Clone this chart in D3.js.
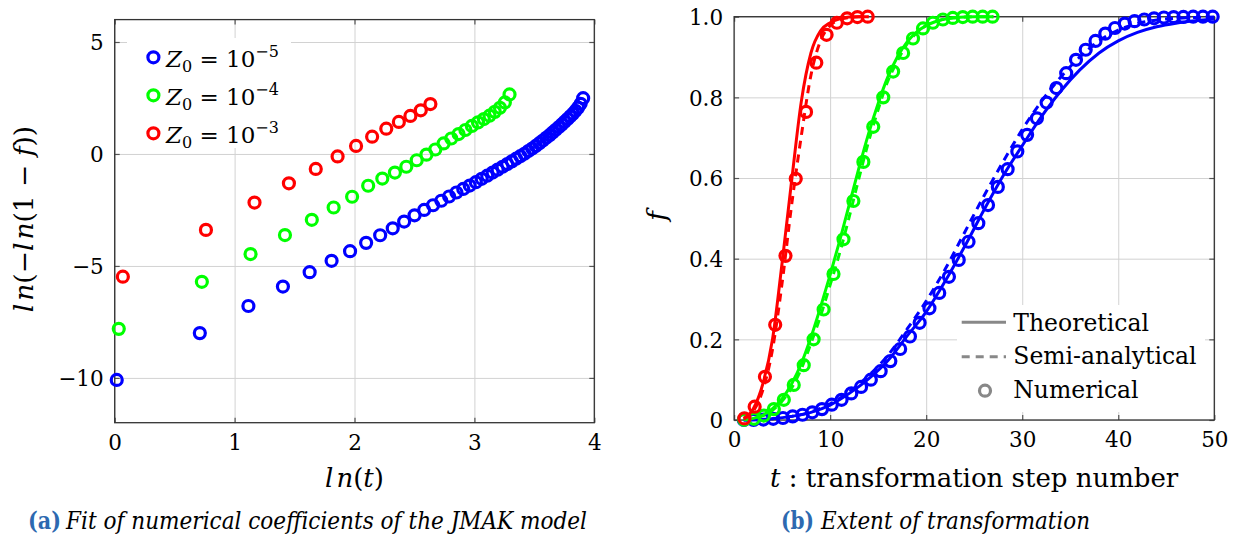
<!DOCTYPE html>
<html><head><meta charset="utf-8">
<script src="https://cdn.jsdelivr.net/npm/d3@7"></script>
<style>
body{margin:0;background:#fff}
svg{display:block}
text{font-family:"DejaVu Serif",serif;fill:#000}
</style>
</head><body>
<svg id="c" width="1237" height="543"></svg>
<script>
// ---------- Panel (a): ln(-ln(1-f)) vs ln(t) ----------
const lnT_blue = [0.017,0.710,1.115,1.403,1.626,1.809,1.963,2.097,2.214,2.319,2.414,2.501,2.581,2.655,2.724,2.789,2.850,2.907,2.961,3.012,3.061,3.107,3.152,3.194,3.235,3.274,3.312,3.348,3.383,3.417,3.450,3.482,3.512,3.542,3.571,3.599,3.627,3.653,3.679,3.705,3.729,3.753,3.777,3.800,3.822,3.844,3.865,3.886,3.907];
const lnF_blue = [-10.09,-8.00,-6.79,-5.92,-5.28,-4.77,-4.34,-3.97,-3.63,-3.32,-3.02,-2.74,-2.50,-2.29,-2.09,-1.90,-1.72,-1.56,-1.41,-1.26,-1.11,-0.97,-0.83,-0.70,-0.57,-0.45,-0.33,-0.21,-0.10,0.01,0.13,0.24,0.36,0.48,0.60,0.72,0.84,0.96,1.08,1.20,1.32,1.44,1.56,1.68,1.80,1.93,2.07,2.24,2.49];
const lnT_green = [0.034,0.727,1.133,1.420,1.644,1.826,1.980,2.114,2.232,2.337,2.432,2.519,2.600,2.674,2.743,2.807,2.868,2.925,2.979,3.030,3.079,3.126,3.170,3.213,3.254,3.293];
const lnF_green = [-7.81,-5.71,-4.47,-3.62,-2.94,-2.39,-1.91,-1.42,-1.10,-0.83,-0.57,-0.28,-0.03,0.20,0.47,0.69,0.89,1.07,1.25,1.41,1.56,1.71,1.88,2.06,2.30,2.66];
const lnT_red = [0.068,0.761,1.166,1.453,1.677,1.859,2.013,2.147,2.265,2.370,2.466,2.553,2.633];
const lnF_red = [-5.48,-3.39,-2.17,-1.31,-0.67,-0.11,0.36,0.77,1.13,1.43,1.70,1.95,2.23];
const legendA = ["5","4","3"];
const xTicksA = [0,1,2,3,4];
const yTicksA = [-10,-5,0,5];

// ---------- Panel (b): f vs t ----------
const t_blue = [1.02,2.03,3.05,4.07,5.09,6.10,7.12,8.14,9.15,10.17,11.19,12.20,13.22,14.24,15.26,16.27,17.29,18.31,19.32,20.34,21.36,22.37,23.39,24.41,25.43,26.44,27.46,28.48,29.49,30.51,31.53,32.54,33.56,34.58,35.60,36.61,37.63,38.65,39.66,40.68,41.70,42.71,43.73,44.75,45.77,46.78,47.80,48.82,49.83];
const f_blue = [0.000,0.0003,0.001,0.003,0.005,0.009,0.013,0.019,0.027,0.038,0.050,0.066,0.082,0.100,0.121,0.146,0.176,0.207,0.241,0.277,0.315,0.355,0.397,0.442,0.488,0.533,0.578,0.622,0.666,0.707,0.748,0.787,0.823,0.860,0.893,0.918,0.940,0.958,0.972,0.983,0.989,0.993,0.996,0.998,0.999,0.9995,1.000,1.000,1.000];
const t_green = [1.04,2.07,3.11,4.14,5.18,6.21,7.25,8.28,9.32,10.35,11.39,12.42,13.46,14.49,15.53,16.56,17.60,18.63,19.67,20.70,21.74,22.77,23.81,24.84,25.88,26.91];
const f_green = [0.0005,0.003,0.011,0.027,0.050,0.087,0.136,0.200,0.274,0.362,0.448,0.543,0.640,0.727,0.800,0.864,0.910,0.946,0.971,0.985,0.993,0.997,0.999,1.000,1.000,1.000];
const t_red = [1.07,2.14,3.21,4.28,5.35,6.42,7.49,8.56,9.63,10.70,11.77,12.84,13.91];
const f_red = [0.004,0.033,0.107,0.236,0.407,0.598,0.764,0.886,0.955,0.985,0.996,0.999,1.000];

const tLine_blue = [1,2,4,6,8,10,12,14,16,18,20,22,24,26,28,30,32,34,36,38,40,42,44,46,48,50];
const theo_blue = [0.000,0.0003,0.003,0.009,0.019,0.037,0.066,0.102,0.147,0.208,0.268,0.345,0.430,0.520,0.605,0.680,0.752,0.815,0.868,0.910,0.940,0.961,0.975,0.984,0.990,0.994];
const semi_blue = [0.000,0.0003,0.003,0.009,0.020,0.040,0.070,0.110,0.160,0.225,0.295,0.375,0.465,0.555,0.640,0.720,0.790,0.850,0.900,0.940,0.967,0.983,0.992,0.996,0.998,0.999];
const tLine_green = [1,2,3,4,5,6,7,8,9,10,11,12,13,14,15,16,17,18,19,20,21,22,23,24,25,26,27];
const theo_green = [0.001,0.004,0.012,0.028,0.053,0.090,0.140,0.205,0.280,0.360,0.445,0.535,0.625,0.710,0.785,0.850,0.900,0.937,0.962,0.978,0.988,0.994,0.997,0.999,1,1,1];
const semi_green = [0.0004,0.003,0.010,0.024,0.047,0.080,0.127,0.190,0.258,0.335,0.415,0.505,0.600,0.690,0.770,0.840,0.890,0.932,0.960,0.978,0.988,0.995,0.998,0.999,1,1,1];
const tLine_red = [1,2,3,4,5,6,7,8,9,10,11,12,13,14];
const theo_red = [0.004,0.028,0.090,0.200,0.390,0.595,0.790,0.910,0.965,0.985,0.995,0.999,1.000,1.000];
const semi_red = [0.003,0.022,0.075,0.175,0.340,0.535,0.705,0.855,0.940,0.978,0.993,0.998,1.000,1.000];
const xTicksB = [0,10,20,30,40,50];
const yTicksB = [0,0.2,0.4,0.6,0.8,1.0];
const legendB = ["Theoretical","Semi-analytical","Numerical"];

const BLUE="#0000ff", GREEN="#00ff00", RED="#ff0000", GREY="#888888";
const R = 5.5, SW = 3.2;

const svg = d3.select("#c");

function clean(s, stroke, w){ s.select(".domain").remove(); s.selectAll("line").attr("stroke",stroke).attr("stroke-width",w); }
function panel(x, y, xTicks, yTicks){
  const g = svg.append("g");
  const [x0,x1] = x.range(), [yb,yt] = y.range();
  g.append("g").attr("transform",`translate(0,${yb})`)
    .call(d3.axisBottom(x).tickValues(xTicks).tickSize(-(yb-yt)).tickFormat(""))
    .call(s=>clean(s,"#d2d2d2",1));
  g.append("g").attr("transform",`translate(${x0},0)`)
    .call(d3.axisLeft(y).tickValues(yTicks).tickSize(-(x1-x0)).tickFormat(""))
    .call(s=>clean(s,"#d2d2d2",1));
  return g;
}
function frame(g, x, y, xTicks, yTicks, xFmt, yFmt){
  const [x0,x1] = x.range(), [yb,yt] = y.range();
  const tm = (axis, tr) => g.append("g").attr("transform",tr)
      .call(axis.tickSize(-5).tickFormat("")).call(s=>clean(s,"#555",1.2));
  tm(d3.axisBottom(x).tickValues(xTicks), `translate(0,${yb})`);
  tm(d3.axisTop(x).tickValues(xTicks), `translate(0,${yt})`);
  tm(d3.axisLeft(y).tickValues(yTicks), `translate(${x0},0)`);
  tm(d3.axisRight(y).tickValues(yTicks), `translate(${x1},0)`);
  g.append("rect").attr("x",x0).attr("y",yt).attr("width",x1-x0).attr("height",yb-yt)
    .attr("fill","none").attr("stroke","#333").attr("stroke-width",1.3);
  g.append("g").attr("transform",`translate(0,${yb})`)
    .call(d3.axisBottom(x).tickValues(xTicks).tickSize(0).tickFormat(xFmt))
    .attr("font-family","DejaVu Serif").attr("font-size",21.5)
    .call(s=>{ s.select(".domain").remove(); s.selectAll("text").attr("y",27).attr("dy",null).attr("fill","#000"); });
  g.append("g").attr("transform",`translate(${x0},0)`)
    .call(d3.axisLeft(y).tickValues(yTicks).tickSize(0).tickFormat(yFmt))
    .attr("font-family","DejaVu Serif").attr("font-size",21.5)
    .call(s=>{ s.select(".domain").remove(); s.selectAll("text").attr("x",-11).attr("dy","0.36em").attr("fill","#000"); });
}
function circles(g, xs, ys, x, y, color){
  g.append("g").selectAll("circle").data(xs.map((v,i)=>[v,ys[i]])).join("circle")
    .attr("cx",d=>x(d[0])).attr("cy",d=>y(d[1])).attr("r",R)
    .attr("fill","none").attr("stroke",color).attr("stroke-width",SW);
}

// ===== Panel (a) =====
const xA = d3.scaleLinear().domain([0,4]).range([114.7,594.3]);
const yA = d3.scaleLinear().domain([-12,6]).range([422.7,19.6]);
const gA = panel(xA, yA, xTicksA, yTicksA);
frame(gA, xA, yA, xTicksA, yTicksA, d3.format("d"), d3.format("d"));
circles(gA, lnT_blue, lnF_blue, xA, yA, BLUE);
circles(gA, lnT_green, lnF_green, xA, yA, GREEN);
circles(gA, lnT_red, lnF_red, xA, yA, RED);

// legend (a)
gA.append("rect").attr("x",127).attr("y",38).attr("width",164).attr("height",110).attr("fill","#fff");
const legColors = [BLUE, GREEN, RED];
legendA.forEach((e,i)=>{
  const cy = 57.3 + i*38;
  gA.append("circle").attr("cx",153.4).attr("cy",cy).attr("r",R)
    .attr("fill","none").attr("stroke",legColors[i]).attr("stroke-width",SW);
  const t = gA.append("text").attr("x",166).attr("y",cy+9.4).attr("font-size",23);
  t.append("tspan").attr("font-style","italic").text("Z");
  t.append("tspan").attr("font-size",16).attr("dy",5).text("0");
  t.append("tspan").attr("dy",-5).text(" = 10");
  t.append("tspan").attr("font-size",16).attr("dy",-10).text("\u2212"+e);
});

// axis labels (a)
{
  const t = gA.append("text").attr("x",354.5).attr("y",487).attr("text-anchor","middle").attr("font-size",26);
  t.append("tspan").attr("font-style","italic").text("l");
  t.append("tspan").attr("font-style","italic").attr("dx",3).text("n");
  t.append("tspan").text("(");
  t.append("tspan").attr("font-style","italic").text("t");
  t.append("tspan").text(")");
  const r = gA.append("text").attr("transform","translate(33,219) rotate(-90)")
    .attr("text-anchor","middle").attr("font-size",26.5);
  r.append("tspan").attr("font-style","italic").text("l");
  r.append("tspan").attr("font-style","italic").attr("dx",3).text("n");
  r.append("tspan").text("(\u2212");
  r.append("tspan").attr("font-style","italic").text("l");
  r.append("tspan").attr("font-style","italic").attr("dx",3).text("n");
  r.append("tspan").text("(1 \u2212 ");
  r.append("tspan").attr("font-style","italic").text("f");
  r.append("tspan").text("))");
}

// ===== Panel (b) =====
const xB = d3.scaleLinear().domain([0,50]).range([734.1,1214.3]);
const yB = d3.scaleLinear().domain([0,1]).range([420,16.7]);
const gB = panel(xB, yB, xTicksB, yTicksB);
frame(gB, xB, yB, xTicksB, yTicksB, d3.format("d"), d=> d===0 ? "0" : d3.format(".1f")(d));
const line = d3.line().x(d=>xB(d[0])).y(d=>yB(d[1])).curve(d3.curveMonotoneX);
function series(ts, theo, semi, tn, fn, color){
  gB.append("path").attr("d", line(ts.map((t,i)=>[t,theo[i]])))
    .attr("fill","none").attr("stroke",color).attr("stroke-width",3);
  gB.append("path").attr("d", line(ts.map((t,i)=>[t,semi[i]])))
    .attr("fill","none").attr("stroke",color).attr("stroke-width",3).attr("stroke-dasharray","8,6");
  circles(gB, tn, fn, xB, yB, color);
}
series(tLine_blue, theo_blue, semi_blue, t_blue, f_blue, BLUE);
series(tLine_green, theo_green, semi_green, t_green, f_green, GREEN);
series(tLine_red, theo_red, semi_red, t_red, f_red, RED);

// legend (b)
gB.append("rect").attr("x",957).attr("y",305).attr("width",248).attr("height",107).attr("fill","#fff");
gB.append("line").attr("x1",961.7).attr("x2",1006).attr("y1",322.3).attr("y2",322.3)
  .attr("stroke",GREY).attr("stroke-width",3);
gB.append("line").attr("x1",961.7).attr("x2",1006).attr("y1",356.7).attr("y2",356.7)
  .attr("stroke",GREY).attr("stroke-width",3).attr("stroke-dasharray","8,6");
gB.append("circle").attr("cx",985).attr("cy",390.7).attr("r",R)
  .attr("fill","none").attr("stroke",GREY).attr("stroke-width",SW);
legendB.forEach((s,i)=>{
  gB.append("text").attr("x",1013.3).attr("y",[330.7,364.3,398.3][i]).attr("font-size",23.5).text(s);
});

// axis labels (b)
{
  const t = gB.append("text").attr("x",974.2).attr("y",487).attr("text-anchor","middle").attr("font-size",26);
  t.append("tspan").attr("font-style","italic").text("t");
  t.append("tspan").text(" : transformation step number");
  gB.append("text").attr("transform","translate(666,216) rotate(-90)").attr("text-anchor","middle")
    .attr("font-size",26).attr("font-style","italic").text("f");
}

// captions
function caption(x0, label, body, bodyX, bodyW){
  svg.append("text").attr("x",x0).attr("y",529).attr("font-size",23.5).attr("font-weight","bold")
    .attr("textLength",33).attr("lengthAdjust","spacingAndGlyphs")
    .style("fill","#2d69b0").text(label);
  svg.append("text").attr("x",bodyX).attr("y",529).attr("font-size",23.5).attr("font-style","italic")
    .attr("textLength",bodyW).attr("lengthAdjust","spacingAndGlyphs").text(body);
}
caption(28, "(a)", "Fit of numerical coefficients of the JMAK model", 66, 521);
caption(781, "(b)", "Extent of transformation", 821, 269);
</script>
</body></html>
